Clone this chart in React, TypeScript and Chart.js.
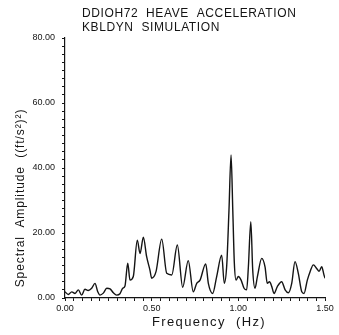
import React, { useEffect, useRef } from "react";
import { Chart, registerables } from "chart.js";

Chart.register(...registerables);

// Heave acceleration spectrum (simulation)
const freqHz: number[] = [
  0, 0.019, 0.039, 0.058, 0.077, 0.096, 0.115, 0.134, 0.154, 0.173, 0.189, 0.202,
  0.221, 0.241, 0.26, 0.279, 0.298, 0.317, 0.333, 0.346, 0.362, 0.375, 0.394,
  0.417, 0.433, 0.452, 0.471, 0.49, 0.5, 0.525, 0.558, 0.587, 0.616, 0.648,
  0.679, 0.711, 0.74, 0.76, 0.779, 0.812, 0.827, 0.852, 0.875, 0.904, 0.919,
  0.933, 0.946, 0.958, 0.968, 0.977, 0.987, 1.0, 1.016, 1.033, 1.048, 1.058,
  1.072, 1.083, 1.096, 1.11, 1.135, 1.154, 1.167, 1.18, 1.193, 1.206, 1.225,
  1.25, 1.27, 1.289, 1.308, 1.327, 1.346, 1.366, 1.379, 1.398, 1.414, 1.433,
  1.452, 1.466, 1.481, 1.494, 1.5,
];

const amplitude: number[] = [
  1.9, 1.1, 1.9, 1.4, 2.5, 0.9, 2.7, 2.3, 3.0, 4.5, 1.9, 0.9,
  1.5, 3.0, 2.8, 1.6, 0.9, 1.3, 3.0, 3.7, 10.7, 5.5, 6.6,
  17.8, 13.7, 18.7, 12.7, 8.6, 6.1, 8.1, 18.1, 7.6, 7.1, 16.3,
  3.3, 11.5, 1.9, 4.5, 5.5, 10.5, 4.5, 1.4, 6.6, 13.2, 4.5,
  10.0, 27.0, 44.0, 27.0, 10.7, 5.5, 6.6, 5.5, 3.0, 2.5, 9.6,
  23.5, 8.6, 3.0, 6.6, 12.2, 9.6, 4.5, 5.0, 3.5, 1.4, 3.5,
  5.0, 2.5, 1.6, 4.5, 11.2, 7.6, 1.9, 1.4, 5.5, 8.1, 10.2,
  9.1, 8.2, 9.6, 7.1, 6.1,
];

const titleLines: string[] = ["DDIOH72  HEAVE  ACCELERATION", "KBLDYN  SIMULATION"];
const xAxisTitle = "Frequency  (Hz)";
const yAxisTitle = "Spectral  Amplitude  ((ft/s²)²)";

const xMajorStep = 0.5;
const xMinorStep = 0.05;
const yMajorStep = 20;
const yMinorStep = 2.5;

const FONT = "'Liberation Sans', 'DejaVu Sans', sans-serif";
const INK = "#141414";

const isMultiple = (v: number, step: number) =>
  Math.abs(v / step - Math.round(v / step)) < 1e-6;

const textPlugin = {
  id: "plotText",
  afterDraw(chart: any) {
    const ctx = chart.ctx as CanvasRenderingContext2D;
    ctx.save();
    ctx.fillStyle = INK;
    ctx.textBaseline = "middle";

    // title block, left aligned
    ctx.font = `12px ${FONT}`;
    (ctx as any).letterSpacing = "0.6px";
    ctx.textAlign = "left";
    ctx.fillText(titleLines[0], 82, 14);
    ctx.fillText(titleLines[1], 82, 28);

    // x axis title
    ctx.font = `13px ${FONT}`;
    (ctx as any).letterSpacing = "1.4px";
    ctx.textAlign = "center";
    ctx.fillText(xAxisTitle, 209, 322);

    // y axis title
    ctx.font = `12px ${FONT}`;
    (ctx as any).letterSpacing = "0.9px";
    ctx.translate(21, 198);
    ctx.rotate(-Math.PI / 2);
    ctx.fillText(yAxisTitle, 0, 0);
    ctx.restore();
  },
};

export default function App() {
  const canvasRef = useRef<HTMLCanvasElement | null>(null);

  useEffect(() => {
    const canvas = canvasRef.current;
    if (!canvas) return;
    const points = freqHz.map((f, i) => ({ x: f, y: amplitude[i] }));

    const chart = new Chart(canvas, {
      type: "line",
      data: {
        datasets: [
          {
            data: points,
            borderColor: INK,
            borderWidth: 1.4,
            pointRadius: 0,
            cubicInterpolationMode: "monotone",
            fill: false,
          },
        ],
      },
      options: {
        responsive: false,
        animation: false,
        devicePixelRatio: 1,
        layout: { padding: { top: 38, right: 14, left: 0, bottom: 0 } },
        plugins: {
          legend: { display: false },
          tooltip: { enabled: false },
          title: { display: false },
        },
        scales: {
          x: {
            type: "linear",
            min: 0,
            max: 1.5,
            afterFit: (scale: any) => {
              scale.height = 37;
            },
            border: { display: true, color: INK, width: 1.2 },
            grid: {
              drawOnChartArea: false,
              drawTicks: true,
              tickLength: 3,
              color: INK,
            },
            ticks: {
              stepSize: xMinorStep,
              autoSkip: false,
              maxRotation: 0,
              padding: 2,
              color: INK,
              font: { family: FONT, size: 9 },
              callback: (v: any) =>
                isMultiple(Number(v), xMajorStep) ? Number(v).toFixed(2) : "",
            },
          },
          y: {
            type: "linear",
            min: 0,
            max: 80,
            afterFit: (scale: any) => {
              scale.width = 65;
            },
            border: { display: true, color: INK, width: 1.2 },
            grid: {
              drawOnChartArea: false,
              drawTicks: true,
              tickLength: 3,
              color: INK,
            },
            ticks: {
              stepSize: yMinorStep,
              autoSkip: false,
              padding: 7,
              color: INK,
              font: { family: FONT, size: 9 },
              callback: (v: any) =>
                isMultiple(Number(v), yMajorStep) ? Number(v).toFixed(2) : "",
            },
          },
        },
      },
      plugins: [textPlugin],
    });

    return () => chart.destroy();
  }, []);

  return (
    <div
      style={{
        position: "absolute",
        left: 0,
        top: 0,
        width: 339,
        height: 335,
        background: "#fff",
      }}
    >
      <canvas ref={canvasRef} width={339} height={335} />
    </div>
  );
}
